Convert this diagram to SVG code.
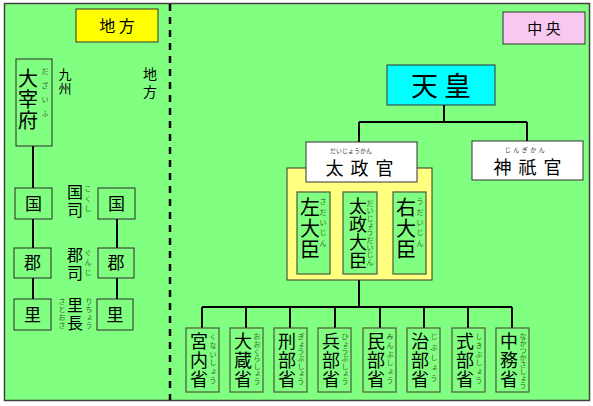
<svg xmlns="http://www.w3.org/2000/svg" width="593" height="406" viewBox="0 0 593 406">
<style>
text{font-family:"Noto Sans CJK JP","Noto Sans",sans-serif;fill:#000}
.v{writing-mode:vertical-rl}
.r{fill:#3b5e2b;font-size:7px}
.rd{fill:#333;font-size:6px}
.box{fill:#80FF80;stroke:#2a2a2a;stroke-width:1}
.ibox{fill:#80FF80;stroke:#4a5a3a;stroke-width:1.2}
.wbox{fill:#fff;stroke:#333;stroke-width:1}
.ln{stroke:#000;stroke-width:2;fill:none}
</style>
<rect x="4.5" y="3.5" width="585" height="397" fill="#80FF80" stroke="#404040" stroke-width="1.5"/>
<line x1="170" y1="4" x2="170" y2="400" stroke="#000" stroke-width="2.5" stroke-dasharray="7 6"/>

<g id="connectors">
<path class="ln" d="M33 146V188M33 219V248M33 278V299M117 219V248M117 278V299"/>
<path class="ln" d="M444 105V122M359 122H527M359 122V142M527 122V141"/>
<path class="ln" d="M359 280V307M202 307H512M202 307V328M246 307V328M290 307V328M335 307V328M380 307V328M424 307V328M468 307V328M512 307V328"/>
</g>

<g id="label-chihou">
<rect x="76" y="9" width="82" height="33" fill="#FFFF00" stroke="#333"/>
<text x="117" y="32" font-size="16" text-anchor="middle">地 方</text>
</g>
<g id="label-chuou">
<rect x="503" y="12" width="82" height="32" fill="#F8C8F0" stroke="#333"/>
<text x="544" y="34" font-size="15" text-anchor="middle">中 央</text>
</g>

<g id="dazaifu">
<rect class="box" x="16" y="59" width="36" height="87"/>
<text class="v" x="28" y="68" font-size="20" letter-spacing="1">大宰府</text>
<text class="v r" x="45" y="68" letter-spacing="7">だざいふ</text>
</g>
<g id="kyushu"><text class="v" x="65" y="68" font-size="13" letter-spacing="1">九州</text></g>
<g id="chihou-v"><text class="v" x="150" y="67" font-size="14" letter-spacing="4">地方</text></g>

<g id="kuni-l"><rect class="box" x="15" y="188" width="37" height="31"/><text x="33.5" y="210" font-size="17" text-anchor="middle">国</text></g>
<g id="kuni-r"><rect class="box" x="98" y="188" width="37" height="31"/><text x="116.5" y="210" font-size="17" text-anchor="middle">国</text></g>
<g id="gun-l"><rect class="box" x="14" y="248" width="37" height="30"/><text x="32.5" y="269" font-size="17" text-anchor="middle">郡</text></g>
<g id="gun-r"><rect class="box" x="98" y="248" width="36" height="30"/><text x="116" y="269" font-size="17" text-anchor="middle">郡</text></g>
<g id="sato-l"><rect class="box" x="14" y="299" width="37" height="31"/><text x="32.5" y="321" font-size="17" text-anchor="middle">里</text></g>
<g id="sato-r"><rect class="box" x="97" y="299" width="36" height="31"/><text x="115" y="321" font-size="17" text-anchor="middle">里</text></g>

<g id="kokushi">
<text class="v" x="75" y="184" font-size="16" letter-spacing="2">国司</text>
<text class="v r" x="88" y="185" letter-spacing="3">こくし</text>
</g>
<g id="gunji">
<text class="v" x="75" y="247" font-size="16" letter-spacing="2">郡司</text>
<text class="v r" x="88" y="249" letter-spacing="3">ぐんじ</text>
</g>
<g id="richou">
<text class="v" x="75" y="297" font-size="16" letter-spacing="2">里長</text>
<text class="v r" x="62" y="298" letter-spacing="1">さとおさ</text>
<text class="v r" x="89" y="298" letter-spacing="1">りちょう</text>
</g>

<g id="tennou">
<rect x="387" y="65" width="108" height="40" fill="#00FFFF" stroke="#333"/>
<text x="444" y="96" font-size="27" letter-spacing="6" text-anchor="middle">天皇</text>
</g>

<g id="daijoukan-panel">
<rect x="287" y="168" width="145" height="112" fill="#FFFF80" stroke="#333"/>
</g>
<g id="daijoukan">
<rect class="wbox" x="306" y="142" width="111" height="40"/>
<text x="363" y="175" font-size="18" letter-spacing="7" text-anchor="middle">太政官</text>
<text class="rd" x="351" y="153" text-anchor="middle">だいじょうかん</text>
</g>
<g id="jingikan">
<rect class="wbox" x="472" y="141" width="111" height="39"/>
<text x="531" y="174" font-size="18" letter-spacing="7" text-anchor="middle">神祇官</text>
<text class="rd" x="526" y="152" letter-spacing="2.5" text-anchor="middle">じんぎかん</text>
</g>

<g id="sadaijin">
<rect class="ibox" x="297" y="192" width="33" height="82"/>
<text class="v" x="310" y="197" font-size="20" letter-spacing="1">左大臣</text>
<text class="v r" x="323" y="198" letter-spacing="3.4">さだいじん</text>
</g>
<g id="daijoudaijin">
<rect class="ibox" x="343" y="192" width="34" height="82"/>
<text class="v" x="358" y="197" font-size="18" letter-spacing="0">太政大臣</text>
<text class="v r" x="370" y="200" letter-spacing="0.3">だいじょうだいじん</text>
</g>
<g id="udaijin">
<rect class="ibox" x="393" y="192" width="33" height="82"/>
<text class="v" x="406" y="197" font-size="20" letter-spacing="1">右大臣</text>
<text class="v r" x="420" y="198" letter-spacing="3.4">うだいじん</text>
</g>

<g id="kunaishou">
<rect class="ibox" x="186" y="328" width="33" height="64"/>
<text class="v" x="199" y="332" font-size="18" letter-spacing="1">宮内省</text>
<text class="v r" x="213" y="333" letter-spacing="1.7">くないしょう</text>
</g>
<g id="ookurashou">
<rect class="ibox" x="230" y="328" width="33" height="64"/>
<text class="v" x="243" y="332" font-size="18" letter-spacing="1">大蔵省</text>
<text class="v r" x="257" y="333" letter-spacing="0.4">おおくらしょう</text>
</g>
<g id="gyoubushou">
<rect class="ibox" x="274" y="328" width="33" height="64"/>
<text class="v" x="287" y="332" font-size="18" letter-spacing="1">刑部省</text>
<text class="v r" x="301" y="333" letter-spacing="0.4">ぎょうぶしょう</text>
</g>
<g id="hyoubushou">
<rect class="ibox" x="318" y="328" width="33" height="64"/>
<text class="v" x="331" y="332" font-size="18" letter-spacing="1">兵部省</text>
<text class="v r" x="345" y="333" letter-spacing="0.4">ひょうぶしょう</text>
</g>
<g id="minbushou">
<rect class="ibox" x="363" y="328" width="33" height="64"/>
<text class="v" x="376" y="332" font-size="18" letter-spacing="1">民部省</text>
<text class="v r" x="390" y="333" letter-spacing="1.7">みんぶしょう</text>
</g>
<g id="jibushou">
<rect class="ibox" x="407" y="328" width="33" height="64"/>
<text class="v" x="420" y="332" font-size="18" letter-spacing="1">治部省</text>
<text class="v r" x="434" y="333" letter-spacing="3.4">じぶしょう</text>
</g>
<g id="shikibushou">
<rect class="ibox" x="452" y="328" width="33" height="64"/>
<text class="v" x="465" y="332" font-size="18" letter-spacing="1">式部省</text>
<text class="v r" x="479" y="333" letter-spacing="1.7">しきぶしょう</text>
</g>
<g id="nakatsukasashou">
<rect class="ibox" x="496" y="328" width="33" height="64"/>
<text class="v" x="509" y="332" font-size="18" letter-spacing="1">中務省</text>
<text class="v r" x="523" y="333" font-size="6.5" letter-spacing="0">なかつかさしょう</text>
</g>
</svg>
